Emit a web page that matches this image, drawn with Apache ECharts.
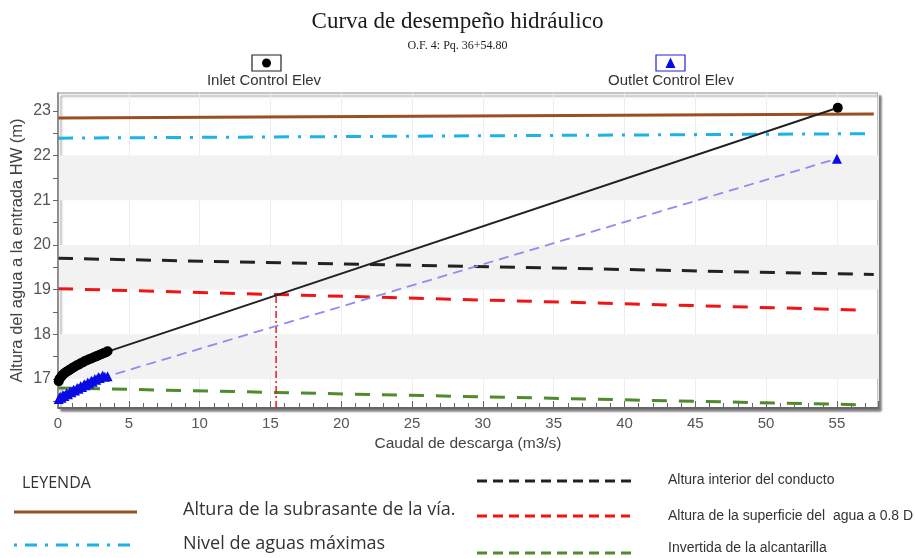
<!DOCTYPE html>
<html>
<head>
<meta charset="utf-8">
<script src="https://cdn.jsdelivr.net/npm/echarts@6/dist/echarts.min.js"></script>
<style>
  html, body { margin: 0; padding: 0; background: #fff; }
  #chart { width: 915px; height: 558px; }
</style>
</head>
<body>
<div id="chart"></div>
<script>
// Caudal (m3/s) y elevaciones (m) de la curva de control a la entrada
const inletQ = [0.05, 0.1, 0.2, 0.3, 0.4, 0.5, 0.6, 0.7, 0.8, 0.9, 1.0, 1.15, 1.3, 1.45, 1.6, 1.75, 1.9, 2.05, 2.2, 2.35, 2.5, 2.65, 2.8, 2.95, 3.1, 3.25, 3.4, 3.5, 55.06];
const inletElev = [16.95, 17.0, 17.04, 17.08, 17.11, 17.14, 17.16, 17.18, 17.20, 17.22, 17.24, 17.27, 17.30, 17.32, 17.35, 17.37, 17.40, 17.42, 17.44, 17.46, 17.48, 17.50, 17.52, 17.54, 17.56, 17.58, 17.60, 17.62, 23.07];

// Curva de control a la salida
const outletQ = [0.05, 0.15, 0.25, 0.35, 0.45, 0.6, 0.7, 0.85, 0.95, 1.1, 1.2, 1.35, 1.45, 1.6, 1.7, 1.85, 1.95, 2.1, 2.2, 2.35, 2.45, 2.6, 2.7, 2.85, 2.95, 3.15, 3.3, 3.5, 55.0];
const outletElev = [16.55, 16.60, 16.58, 16.64, 16.62, 16.68, 16.66, 16.72, 16.70, 16.76, 16.74, 16.80, 16.78, 16.84, 16.82, 16.88, 16.86, 16.92, 16.90, 16.96, 16.94, 17.00, 16.98, 17.04, 17.02, 17.08, 17.05, 17.06, 21.93];

// Niveles de referencia: [caudal inicial, caudal final] y [cota inicial, cota final]
const subrasanteQ = [0, 57.6];
const subrasante = [22.84, 22.93];
const aguasMaxQ = [0, 57.5];
const aguasMax = [22.39, 22.49];
const alturaConductoQ = [0, 57.6];
const alturaConducto = [19.70, 19.34];
const superficie08Q = [0, 56.9];
const superficie08 = [19.02, 18.54];
const invertidaQ = [0, 57.0];
const invertida = [16.80, 16.42];

// Punto de operación: caudal de diseño sobre la curva de entrada
const disenoQ = [15.4, 15.4];
const disenoElev = [16.35, 18.9];

// Ejes
const xTicks = [0, 5, 10, 15, 20, 25, 30, 35, 40, 45, 50, 55];
const yLabels = [17, 18, 19, 20, 21, 22, 23];
const yTicks = [16.5, 17, 17.5, 18, 18.5, 19, 19.5, 20, 20.5, 21, 21.5, 22, 22.5, 23];
const grayBands = [[17, 18], [19, 20], [21, 22]];

const pairs = (xs, ys) => xs.map((x, i) => [x, ys[i]]);

const C = {
  brown: '#9a4e22',
  cyan: '#1cb3e6',
  black: '#222222',
  red: '#f01515',
  green: '#4f8a2c',
  blue: '#0a0ae6',
  lavender: '#8c8cf2'
};

const chart = echarts.init(document.getElementById('chart'));

const hLine = (name, xs, ys, color, dash, width, z) => ({
  name, type: 'line', data: pairs(xs, ys), symbol: 'none', z,
  lineStyle: { color, width, type: dash }, silent: true, animation: false
});

const sansNarrow = '"Liberation Sans Narrow", "Liberation Sans", Arial, sans-serif';

chart.setOption({
  animation: false,
  backgroundColor: '#fff',
  title: [
    {
      text: 'Curva de desempeño hidráulico', left: 'center', top: 5,
      textStyle: { fontFamily: 'Liberation Serif', fontSize: 23, fontWeight: 'normal', color: '#1a1a1a' }
    },
    {
      text: 'O.F. 4: Pq. 36+54.80', left: 'center', top: 35,
      textStyle: { fontFamily: 'Liberation Serif', fontSize: 12, fontWeight: 'normal', color: '#222' }
    }
  ],
  grid: {
    left: 58, top: 93, right: 37, bottom: 150,
    outerBoundsMode: 'none', containLabel: false,
    show: true, backgroundColor: '#fff', borderColor: '#8a8a8a', borderWidth: 1,
    shadowColor: 'rgba(0,0,0,0.5)', shadowOffsetX: 3, shadowOffsetY: 3, shadowBlur: 2
  },
  xAxis: {
    type: 'value', min: 0, max: 57.9, interval: 5,
    name: 'Caudal de descarga (m3/s)', nameLocation: 'middle', nameGap: 24,
    nameTextStyle: { fontFamily: 'Liberation Sans', fontSize: 15.5, color: '#444' },
    axisLine: { lineStyle: { color: '#666', width: 2 } },
    axisTick: { inside: true, length: 7, lineStyle: { color: '#666' } },
    minorTick: { show: true, splitNumber: 5, length: 5, lineStyle: { color: '#666' } },
    axisLabel: {
      fontFamily: 'Liberation Sans', fontSize: 15, color: '#555', margin: 8,
      customValues: xTicks
    },
    splitLine: { show: true, lineStyle: { color: '#ededed', width: 1 } }
  },
  yAxis: {
    type: 'value', min: 16.35, max: 23.4, z: 5,
    name: 'Altura del agua a la entrada HW (m)', nameLocation: 'middle', nameGap: 32,
    nameMoveOverlap: false,
    nameTextStyle: { fontFamily: 'Liberation Sans', fontSize: 16.5, color: '#444' },
    axisLine: { show: true, lineStyle: { color: '#777', width: 1.5 } },
    axisTick: { show: true, length: 5, customValues: yTicks, lineStyle: { color: '#666' } },
    axisLabel: {
      fontFamily: 'Liberation Sans', fontSize: 16, color: '#555', margin: 7,
      customValues: yLabels
    },
    splitLine: { show: false }
  },
  series: [
    {
      name: 'bandas', type: 'line', data: [], z: 1, silent: true,
      markArea: {
        silent: true,
        itemStyle: { color: '#f2f2f2' },
        data: grayBands.map(b => [{ yAxis: b[0] }, { yAxis: b[1] }])
      }
    },
    hLine('Invertida de la alcantarilla', invertidaQ, invertida, C.green, [15, 12], 3, 3),
    hLine('Altura de la superficie del agua a 0.8 D', superficie08Q, superficie08, C.red, [15, 12], 3, 3),
    hLine('Altura interior del conducto', alturaConductoQ, alturaConducto, C.black, [15, 11], 3, 3),
    hLine('Nivel de aguas máximas', aguasMaxQ, aguasMax, C.cyan, [15, 9, 3, 9], 3, 3),
    hLine('Altura de la subrasante de la vía.', subrasanteQ, subrasante, C.brown, 'solid', 3, 3),
    {
      name: 'Caudal de diseño', type: 'line', data: pairs(disenoQ, disenoElev), symbol: 'none', z: 4,
      lineStyle: { color: C.red, width: 1.5, type: [7, 3, 2, 3] }, silent: true
    },
    {
      name: 'Outlet Control Elev', type: 'line', data: pairs(outletQ, outletElev), z: 5,
      symbol: 'triangle', symbolSize: 10, showAllSymbol: true,
      itemStyle: { color: C.blue },
      lineStyle: { color: C.lavender, width: 1.8, type: [10, 6] }, silent: true
    },
    {
      name: 'Inlet Control Elev', type: 'line', data: pairs(inletQ, inletElev), z: 6,
      symbol: 'circle', symbolSize: 10, showAllSymbol: true,
      itemStyle: { color: '#000' },
      lineStyle: { color: '#222', width: 2 }, silent: true
    }
  ],
  graphic: [
    // leyenda superior
    { type: 'rect', shape: { x: 252, y: 55, width: 29, height: 16 }, style: { fill: '#fff', stroke: '#222', lineWidth: 1.2 } },
    { type: 'circle', shape: { cx: 266.5, cy: 63, r: 4.5 }, style: { fill: '#000' } },
    { type: 'text', style: { text: 'Inlet Control Elev', x: 264, y: 81, align: 'center', verticalAlign: 'middle', font: '15px ' + sansNarrow, fill: '#333' } },
    { type: 'rect', shape: { x: 656, y: 55, width: 29, height: 16 }, style: { fill: '#fff', stroke: '#2020e0', lineWidth: 1.2 } },
    { type: 'polygon', shape: { points: [[670.5, 57.5], [665.5, 68], [675.5, 68]] }, style: { fill: C.blue } },
    { type: 'text', style: { text: 'Outlet Control Elev', x: 671, y: 81, align: 'center', verticalAlign: 'middle', font: '15px ' + sansNarrow, fill: '#333' } },

    // leyenda inferior
    { type: 'text', style: { text: 'LEYENDA', x: 22, y: 483, verticalAlign: 'middle', font: '16px "Open Sans"', fill: '#333' } },
    { type: 'line', shape: { x1: 14, y1: 512, x2: 137, y2: 512 }, style: { stroke: C.brown, lineWidth: 3 } },
    { type: 'text', style: { text: 'Altura de la subrasante de la vía.', x: 183, y: 510, verticalAlign: 'middle', font: '18px "Open Sans"', fill: '#333' } },
    { type: 'line', shape: { x1: 14, y1: 545, x2: 137, y2: 545 }, style: { stroke: C.cyan, lineWidth: 3, lineDash: [3, 8, 12, 8] } },
    { type: 'text', style: { text: 'Nivel de aguas máximas', x: 183, y: 544, verticalAlign: 'middle', font: '18px "Open Sans"', fill: '#333' } },

    { type: 'line', shape: { x1: 477, y1: 481, x2: 636, y2: 481 }, style: { stroke: C.black, lineWidth: 3, lineDash: [10, 6] } },
    { type: 'text', style: { text: 'Altura interior del conducto', x: 668, y: 480, verticalAlign: 'middle', font: '14px ' + sansNarrow, fill: '#333' } },
    { type: 'line', shape: { x1: 477, y1: 516, x2: 630, y2: 516 }, style: { stroke: C.red, lineWidth: 3, lineDash: [10, 6] } },
    { type: 'text', style: { text: 'Altura de la superficie del  agua a 0.8 D', x: 668, y: 516, verticalAlign: 'middle', font: '14px ' + sansNarrow, fill: '#333' } },
    { type: 'line', shape: { x1: 477, y1: 553, x2: 636, y2: 553 }, style: { stroke: C.green, lineWidth: 3, lineDash: [10, 6] } },
    { type: 'text', style: { text: 'Invertida de la alcantarilla', x: 668, y: 548, verticalAlign: 'middle', font: '14px ' + sansNarrow, fill: '#333' } }
  ]
});
</script>
</body>
</html>
